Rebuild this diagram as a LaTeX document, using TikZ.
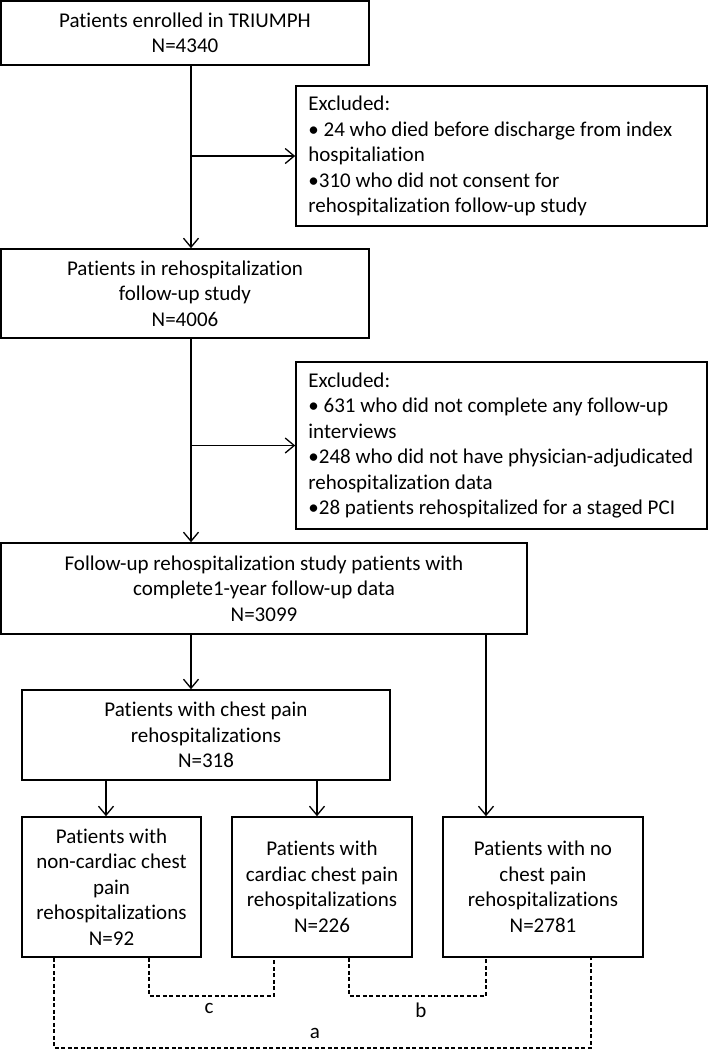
\documentclass[tikz,border=0pt]{standalone}
\usepackage{fontspec}
\setmainfont{Carlito}[Ligatures=NoCommon]
\usetikzlibrary{arrows.meta}
\newcommand{\flowfont}{\fontsize{21}{25.5}\selectfont}

\begin{document}
\begin{tikzpicture}[x=1pt, y=-1pt,
    box/.style={draw, line width=1.6pt, align=center, inner sep=0pt, font=\flowfont},
    exclbox/.style={draw, line width=1.6pt, inner sep=0pt, minimum width=411pt, minimum height=#1},
    excltext/.style={anchor=west, align=left, inner sep=0pt, font=\flowfont},
    arr/.style={line width=1.3pt, -{Straight Barb[length=9pt, width=15pt]}},
    cmp/.style={line width=1.2pt, dash pattern=on 4pt off 2.5pt},
    lbl/.style={font=\flowfont, inner sep=0pt}]
    \useasboundingbox (0,0) rectangle (708,1050);

    % Main flow
    \node[box, minimum width=368pt, minimum height=64pt] (enrolled) at (185,33)
        {Patients enrolled in TRIUMPH\\N=4340};
    \node[box, minimum width=368pt, minimum height=89pt] (followup) at (185,293.5)
        {Patients in rehospitalization\\follow-up study\\N=4006};
    \node[box, minimum width=526pt, minimum height=91pt] (complete) at (264,588.5)
        {Follow-up rehospitalization study patients with\\complete1-year follow-up data\\N=3099};
    \node[box, minimum width=368pt, minimum height=90pt] (chestpain) at (206,735)
        {Patients with chest pain\\rehospitalizations\\N=318};

    % Exclusions
    \node[exclbox=140pt] (excl1) at (501.5,156) {};
    \node[excltext] (excl1txt) at ([xshift=13pt]excl1.west)
        {Excluded:\\• 24 who died before discharge from index\\hospitaliation\\•310 who did not consent for\\rehospitalization follow-up study};
    \node[exclbox=167pt] (excl2) at (501.5,445.5) {};
    \node[excltext] (excl2txt) at ([xshift=13pt]excl2.west)
        {Excluded:\\• 631 who did not complete any follow-up\\interviews\\•248 who did not have physician-adjudicated\\rehospitalization data\\•28 patients rehospitalized for a staged PCI};

    % Groups
    \node[box, minimum width=179pt, minimum height=140pt] (noncardiac) at (111.5,887)
        {Patients with\\non-cardiac chest\\pain\\rehospitalizations\\N=92};
    \node[box, minimum width=180pt, minimum height=140pt] (cardiac) at (322,887)
        {Patients with\\cardiac chest pain\\rehospitalizations\\N=226};
    \node[box, minimum width=200pt, minimum height=140pt] (nopain) at (543,887)
        {Patients with no\\chest pain\\rehospitalizations\\N=2781};

    % Arrows
    \coordinate (spine) at (191,0);
    \coordinate (side) at (486,0);
    \coordinate (left) at (106,0);
    \coordinate (mid) at (317,0);
    \draw[arr] (enrolled.south -| spine) -- (followup.north -| spine);
    \draw[arr] (spine |- excl1.west) -- (excl1.west);
    \draw[arr] (followup.south -| spine) -- (complete.north -| spine);
    \draw[arr] (spine |- excl2.west) -- (excl2.west);
    \draw[arr] (complete.south -| spine) -- (chestpain.north -| spine);
    \draw[arr] (complete.south -| side) -- (nopain.north -| side);
    \draw[arr] (chestpain.south -| left) -- (noncardiac.north -| left);
    \draw[arr] (chestpain.south -| mid) -- (cardiac.north -| mid);

    % Comparisons
    \coordinate (c1) at (149,996);
    \coordinate (c2) at (274,996);
    \coordinate (b1) at (349,996);
    \coordinate (b2) at (486,996);
    \coordinate (a1) at (54,1048);
    \coordinate (a2) at (591,1048);
    \draw[cmp] (noncardiac.south -| c1) -- (c1) -- (c2) -- (cardiac.south -| c2);
    \draw[cmp] (cardiac.south -| b1) -- (b1) -- (b2) -- (nopain.south -| b2);
    \draw[cmp] (noncardiac.south -| a1) -- (a1) -- (a2) -- (nopain.south -| a2);
    \node[lbl] (clbl) at (209,1008) {c};
    \node[lbl] (blbl) at (421,1010) {b};
    \node[lbl] (albl) at (315,1033) {a};
\end{tikzpicture}
\end{document}
